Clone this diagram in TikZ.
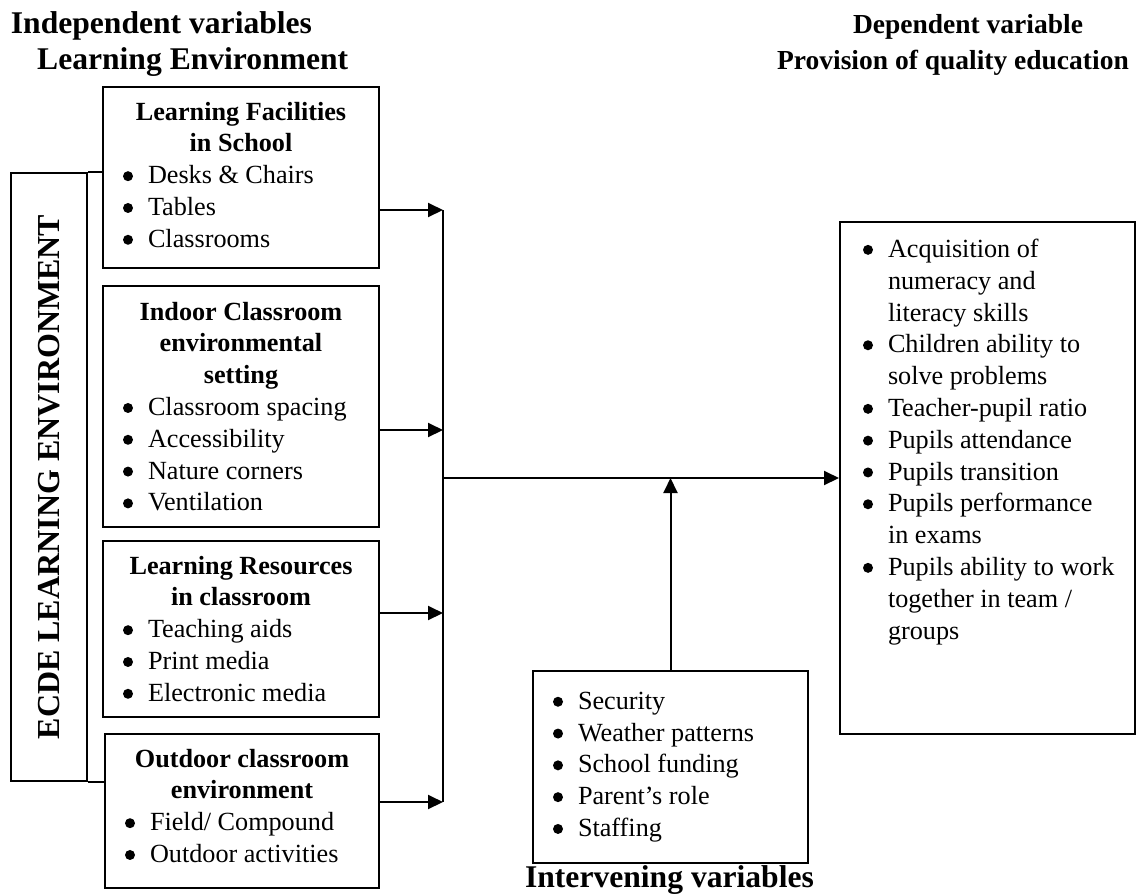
\documentclass[tikz,border=0pt]{standalone}
\usepackage{fontspec}
\setmainfont{Liberation Serif}
\usetikzlibrary{arrows.meta,calc}
\newcommand\bdot{\tikz[baseline=0pt]\fill (5pt,7.6pt) circle[radius=5pt];}
\newcommand\bitem[1]{\hspace*{20pt}\makebox[25pt][l]{\bdot}#1}
\newcommand\contl[1]{\hspace*{45pt}#1}
\newcommand\bitemr[1]{\hspace*{23pt}\makebox[25pt][l]{\bdot}#1}
\newcommand\contr[1]{\hspace*{48pt}#1}
\newcommand\hdg[1]{{\centering\bfseries #1\par}}
\begin{document}
\begin{tikzpicture}[x=1pt,y=-1pt,
  box/.style={draw,line width=2pt,inner sep=0pt,anchor=north west,
    font=\fontsize{26.2}{31.8}\selectfont},
  titlef/.style={font=\fontsize{31.6}{36}\selectfont\bfseries,inner sep=0pt},
  titler/.style={font=\fontsize{27.5}{32}\selectfont\bfseries,inner sep=0pt},
  arr/.style={line width=2pt,-{Triangle[length=15pt,width=14pt]}},
  ln/.style={line width=2pt}]
\useasboundingbox (0,0) rectangle (1138,895);

% titles
\node[titlef,anchor=base west] (ti1) at (10.7,33) {Independent variables};
\node[titlef,anchor=base west] (ti2) at (37,69) {Learning Environment};
\node[titler,anchor=base] (ti3) at (968,33) {Dependent variable};
\node[titler,anchor=base east] (ti4) at (1129,69) {Provision of quality education};
\node[titlef,anchor=base] (ti5) at (669.5,887) {Intervening variables};

% ECDE box
\node[box,minimum width=76.5pt,minimum height=608pt] (ecde) at (9.5,172) {};
\node[rotate=90,inner sep=0pt,font=\fontsize{32}{36}\selectfont\bfseries] (ecdet) at (ecde.center) {ECDE LEARNING ENVIRONMENT};

% left boxes
\node[box] (b1) at (102,86) {\parbox[c][181pt][t]{276pt}{\raggedright\vspace*{15pt}%
  \hdg{Learning Facilities\\ in School}%
  \bitem{Desks \& Chairs}\\ \bitem{Tables}\\ \bitem{Classrooms}}};
\node[box] (b2) at (102,285) {\parbox[c][241pt][t]{276pt}{\raggedright\vspace*{16pt}%
  \hdg{Indoor Classroom\\ environmental\\ setting}%
  \bitem{Classroom spacing}\\ \bitem{Accessibility}\\ \bitem{Nature corners}\\ \bitem{Ventilation}}};
\node[box] (b3) at (102,540) {\parbox[c][176pt][t]{276pt}{\raggedright\vspace*{15pt}%
  \hdg{Learning Resources\\ in classroom}%
  \bitem{Teaching aids}\\ \bitem{Print media}\\ \bitem{Electronic media}}};
\node[box] (b4) at (104,733) {\parbox[c][154pt][t]{274pt}{\raggedright\vspace*{15pt}%
  \hdg{Outdoor classroom\\ environment}%
  \bitem{Field/ Compound}\\ \bitem{Outdoor activities}}};

% intervening box
\node[box] (iv) at (532,670) {\parbox[c][192pt][t]{275pt}{\raggedright\vspace*{21pt}%
  \bitem{Security}\\ \bitem{Weather patterns}\\ \bitem{School funding}\\ \bitem{Parent’s role}\\ \bitem{Staffing}}};

% dependent box
\node[box] (rb) at (839,221) {\parbox[c][512pt][t]{295pt}{\raggedright\vspace*{17pt}%
  \bitemr{Acquisition of}\\ \contr{numeracy and}\\ \contr{literacy skills}\\
  \bitemr{Children ability to}\\ \contr{solve problems}\\
  \bitemr{Teacher-pupil ratio}\\ \bitemr{Pupils attendance}\\ \bitemr{Pupils transition}\\
  \bitemr{Pupils performance}\\ \contr{in exams}\\
  \bitemr{Pupils ability to work}\\ \contr{together in team /}\\ \contr{groups}}};

% ECDE connections
\draw[ln] (ecde.north east) -- (ecde.north east -| b1.west);
\draw[ln] (ecde.south east) -- (ecde.south east -| b4.west);

% bus
\coordinate (j1) at (443,210);
\coordinate (j2) at (443,430);
\coordinate (j3) at (443,613);
\coordinate (j4) at (443,802);
\coordinate (jm) at (443,478);
\draw[ln] (j1) -- (j4);
\draw[arr] (b1.east |- j1) -- (j1);
\draw[arr] (b2.east |- j2) -- (j2);
\draw[arr] (b3.east |- j3) -- (j3);
\draw[arr] (b4.east |- j4) -- (j4);
\draw[arr] (jm) -- (jm -| rb.west);
\draw[arr] (iv.north) -- (iv.north |- jm);
\end{tikzpicture}
\end{document}
